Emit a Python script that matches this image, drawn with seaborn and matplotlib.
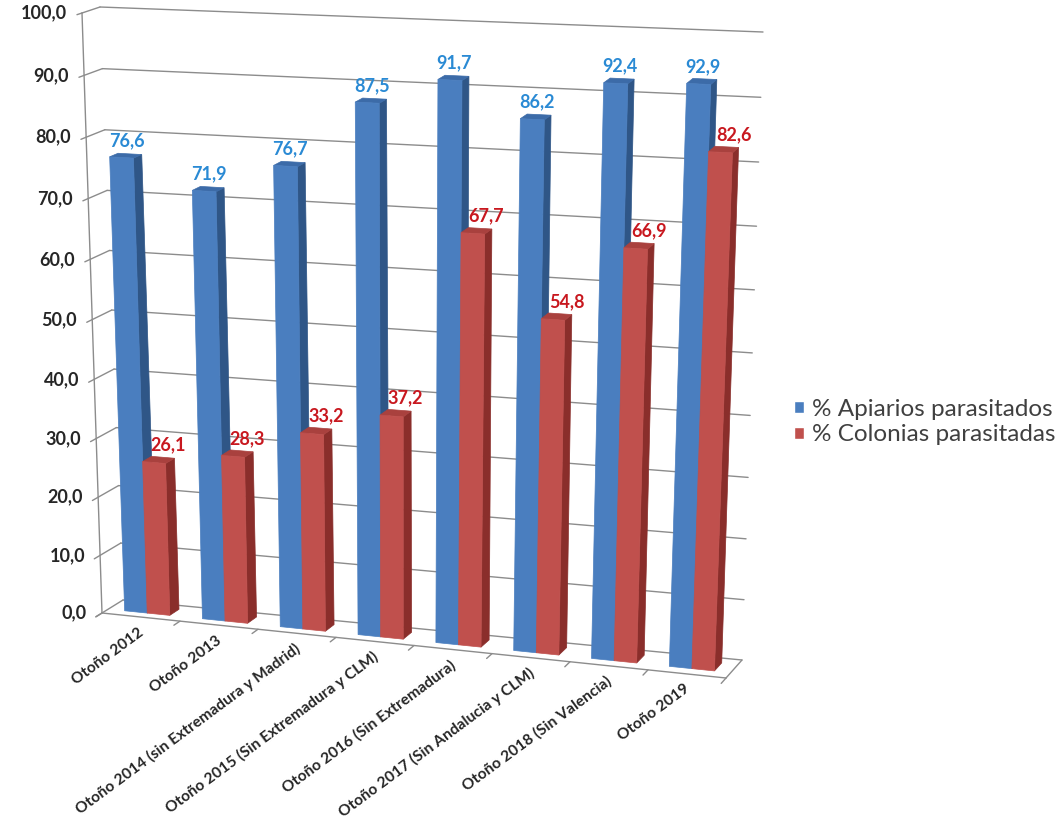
import numpy as np
import pandas as pd
import matplotlib
matplotlib.use("Agg")
import matplotlib.pyplot as plt
import matplotlib.transforms as mtransforms
from matplotlib.patches import Polygon
import seaborn as sns

# ---- data -------------------------------------------------------------
periodos = [
    "Otoño 2012",
    "Otoño 2013",
    "Otoño 2014 (sin Extremadura y Madrid)",
    "Otoño 2015 (Sin Extremadura y CLM)",
    "Otoño 2016 (Sin Extremadura)",
    "Otoño 2017 (Sin Andalucia y CLM)",
    "Otoño 2018 (Sin Valencia)",
    "Otoño 2019",
]
apiarios = [76.6, 71.9, 76.7, 87.5, 91.7, 86.2, 92.4, 92.9]
colonias = [26.1, 28.3, 33.2, 37.2, 67.7, 54.8, 66.9, 82.6]
series = ["% Apiarios parasitados", "% Colonias parasitadas"]
y_ticks = [0, 10, 20, 30, 40, 50, 60, 70, 80, 90, 100]

# ---- style ------------------------------------------------------------
BLUE, BLUE_SIDE, BLUE_TOP = "#4A7EBF", "#2F5687", "#3C6BA8"
RED, RED_SIDE, RED_TOP = "#C0504D", "#8A2E2B", "#A9413E"
BLUE_TXT, RED_TXT = "#2A8AD4", "#C8181F"
GRID = "#8C8C8C"
TXT = "#262626"

sns.set_style("white")
plt.rcParams["font.family"] = ["Lato", "DejaVu Sans"]

W, H = 1064, 821

# ---- 3-D box geometry (pixel corners of the front and back planes) ----
XMIN, XMAX = -0.5, 7.5
FRONT = {"bl": (102, 613), "br": (726, 678), "tl": (82, 13), "tr": (750, 43)}
BACK = {"bl": (123, 600), "br": (742, 660), "tl": (100, 7), "tr": (763, 32)}
ZF, ZB = 0.30, 0.75          # depth range occupied by the columns


def warp(v):
    s = np.asarray(v, float) / 100.0
    return 0.956 * s + 0.044 * s * s


def project(x, v, z):
    x, v, z = np.broadcast_arrays(np.asarray(x, float), np.asarray(v, float),
                                  np.asarray(z, float))
    u = (x - XMIN) / (XMAX - XMIN)
    t = warp(v)

    def bil(c):
        bl, br, tl, tr = (np.array(c[k], float) for k in ("bl", "br", "tl", "tr"))
        return (((1 - u) * (1 - t))[..., None] * bl + (u * (1 - t))[..., None] * br
                + ((1 - u) * t)[..., None] * tl + (u * t)[..., None] * tr)

    return (1 - z)[..., None] * bil(FRONT) + z[..., None] * bil(BACK)


class Depth(mtransforms.Transform):
    """Maps (category, value) at a fixed depth into image pixels."""
    input_dims = output_dims = 2
    is_separable = False
    has_inverse = False

    def __init__(self, z):
        super().__init__()
        self.z = z

    def transform_non_affine(self, values):
        xy = np.atleast_2d(np.asarray(values, float))
        return project(xy[:, 0], xy[:, 1], self.z)


PIX = mtransforms.Affine2D().scale(1, -1).translate(0, H)   # image px -> display


def plane(z):
    return Depth(z) + PIX


# ---- figure -----------------------------------------------------------
fig = plt.figure(figsize=(W / 100, H / 100), dpi=100)
ax = fig.add_axes([0, 0, 1, 1])

df = pd.DataFrame({
    "periodo": periodos * 2,
    "serie": [series[0]] * len(periodos) + [series[1]] * len(periodos),
    "valor": apiarios + colonias,
})

sns.barplot(data=df, x="periodo", y="valor", hue="serie", hue_order=series,
            palette=[BLUE, RED], saturation=1, width=0.58, errorbar=None, ax=ax)
ax.axis("off")

# walls: back-wall gridlines, side-wall gridlines, axis ticks
for v in y_ticks:
    ax.plot([XMIN, XMAX], [v, v], transform=plane(1.0), color=GRID, lw=1.0,
            zorder=1, clip_on=False)
    side = project([XMIN, XMIN], [v, v], [0, 1])
    ax.plot(side[:, 0], side[:, 1], transform=PIX, color=GRID, lw=1.0,
            zorder=1, clip_on=False)
    tick = project([XMIN, XMIN], [v, v], [0, -0.28])
    ax.plot(tick[:, 0], tick[:, 1], transform=PIX, color=GRID, lw=1.0,
            zorder=1, clip_on=False)
    p = project(XMIN, v, 0)
    ax.text(p[0] - 15, p[1], f"{v:.1f}".replace(".", ","), transform=PIX,
            ha="right", va="center", fontsize=13, fontweight="bold", color=TXT)

axis_line = project([XMIN, XMIN], [0, 100], [0, 0])
ax.plot(axis_line[:, 0], axis_line[:, 1], transform=PIX, color=GRID, lw=1.0,
        zorder=1, clip_on=False)

# floor outline
front_edge = project([XMIN, XMAX], [0, 0], [0, 0])
right_edge = project([XMAX, XMAX], [0, 0], [0, 1])
for seg in (front_edge, right_edge):
    ax.plot(seg[:, 0], seg[:, 1], transform=PIX, color=GRID, lw=1.0,
            zorder=1, clip_on=False)
for b in np.arange(XMIN, XMAX + 0.01, 1.0):
    tk = project([b, b], [0, 0], [0, -0.3])
    ax.plot(tk[:, 0], tk[:, 1], transform=PIX, color=GRID, lw=1.0,
            zorder=1, clip_on=False)

# category labels along the floor
for i, lab in enumerate(periodos):
    p = project(i, 0, 0)
    ax.text(p[0] - 3, p[1] + 8, lab, transform=PIX, rotation=36.5,
            rotation_mode="anchor", ha="right", va="top", fontsize=11.2,
            fontweight="bold", color=TXT)

# columns: front faces from seaborn, plus side and top faces
side_cols = [BLUE_SIDE, RED_SIDE]
top_cols = [BLUE_TOP, RED_TOP]
txt_cols = [BLUE_TXT, RED_TXT]
txt_dx = [1, 10]
for hi, cont in enumerate(ax.containers):
    for ci, rect in enumerate(cont):
        x0, w, h = rect.get_x(), rect.get_width(), rect.get_height()
        x1 = x0 + w
        base = 10 + ci * 10 + hi * 4
        side = project([x1, x1, x1, x1], [0, h, h, 0], [ZF, ZF, ZB, ZB])
        top = project([x0, x1, x1, x0], [h, h, h, h], [ZF, ZF, ZB, ZB])
        ax.add_patch(Polygon(side, closed=True, transform=PIX, facecolor=side_cols[hi],
                             edgecolor=side_cols[hi], lw=0.5, zorder=base, clip_on=False))
        ax.add_patch(Polygon(top, closed=True, transform=PIX, facecolor=top_cols[hi],
                             edgecolor=top_cols[hi], lw=0.5, zorder=base + 1, clip_on=False))
        rect.set_transform(plane(ZF))
        rect.set_clip_on(False)
        rect.set_zorder(base + 2)
        rect.set_edgecolor(rect.get_facecolor())
        rect.set_linewidth(0.5)
        lp = project(x0 + w / 2, h, (ZF + ZB) / 2)
        ax.text(lp[0] + txt_dx[hi], lp[1] - 15, f"{h:.1f}".replace(".", ","),
                transform=PIX, ha="center", va="center", fontsize=13,
                fontweight="bold", color=txt_cols[hi], zorder=200)

sns.move_legend(ax, "center left", bbox_to_anchor=(772 / W, 1 - 422 / H),
                bbox_transform=fig.transFigure, frameon=False, title=None,
                fontsize=17.5, handlelength=0.4, handleheight=0.4,
                handletextpad=0.35, labelspacing=0.2)
for t in ax.get_legend().get_texts():
    t.set_color("#404040")

fig.savefig("out.png", dpi=100)
